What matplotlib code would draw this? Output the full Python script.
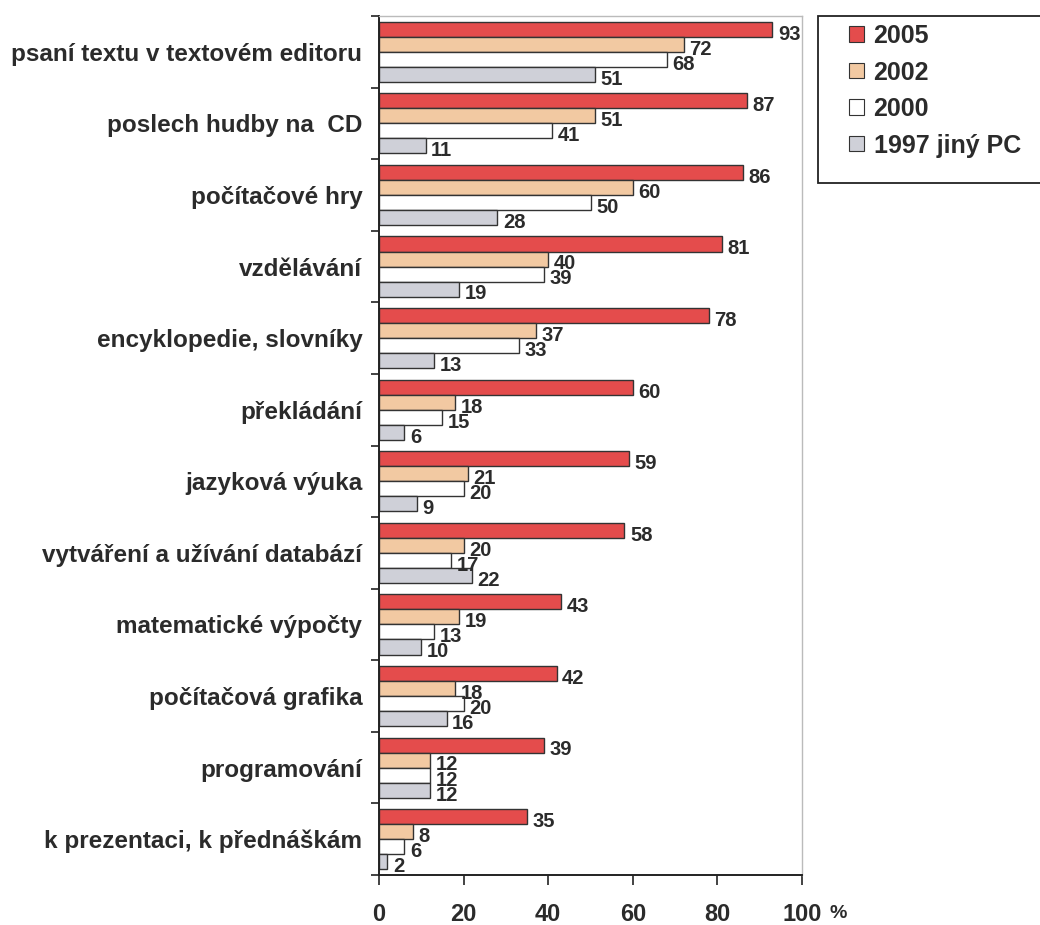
import numpy as np
import matplotlib
matplotlib.use("Agg")
import matplotlib.pyplot as plt
from matplotlib.patches import Patch, Rectangle

plt.rcParams['font.family'] = ['Liberation Sans', 'DejaVu Sans']
plt.rcParams['font.weight'] = 'bold'

categories = [
    "psaní textu v textovém editoru",
    "poslech hudby na  CD",
    "počítačové hry",
    "vzdělávání",
    "encyklopedie, slovníky",
    "překládání",
    "jazyková výuka",
    "vytváření a užívání databází",
    "matematické výpočty",
    "počítačová grafika",
    "programování",
    "k prezentaci, k přednáškám",
]
v2005 = [93, 87, 86, 81, 78, 60, 59, 58, 43, 42, 39, 35]
v2002 = [72, 51, 60, 40, 37, 18, 21, 20, 19, 18, 12, 8]
v2000 = [68, 41, 50, 39, 33, 15, 20, 17, 13, 20, 12, 6]
v1997 = [51, 11, 28, 19, 13, 6, 9, 22, 10, 16, 12, 2]
series_names = ["2005", "2002", "2000", "1997 jiný PC"]
xticks = [0, 20, 40, 60, 80, 100]

colors = ["#e44c4c", "#f2c9a2", "#ffffff", "#cfd0d8"]
txt = "#2b2b2b"
W, H = 1040, 925

fig = plt.figure(figsize=(10.4, 9.25), dpi=100)
ax = fig.add_axes([379 / W, 50 / H, 423 / W, 859 / H])

y = np.arange(len(categories))
h = 0.21
series = [v2005, v2002, v2000, v1997]
for k, (vals, col) in enumerate(zip(series, colors)):
    pos = y + (k - 1.5) * h
    ax.barh(pos, vals, height=h, color=col, edgecolor="#333333", linewidth=1.0)
    for p, v in zip(pos, vals):
        ax.annotate(str(v), (v, p), xytext=(4, -3.5), textcoords="offset points",
                    ha="left", va="center", fontsize=14.5, fontweight="bold", color=txt)

ax.set_xlim(0, 100)
ax.set_ylim(len(categories) - 0.5, -0.5)
ax.set_yticks(y)
ax.set_yticklabels(categories, fontsize=17.5, fontweight="bold", color=txt)
ax.tick_params(axis="y", which="major", length=0, pad=12)
ax.set_yticks(np.arange(len(categories) + 1) - 0.5, minor=True)
ax.tick_params(axis="y", which="minor", length=6, width=1.2, color="#222222", direction="out")

# "100" stays centred on its tick, the % sign is added beside it
ax.set_xticks(xticks)
ax.set_xticklabels([str(t) for t in xticks], fontsize=17, fontweight="bold", color=txt)
ax.tick_params(axis="x", length=7, width=1.2, color="#222222", direction="out", pad=13)
fig.text(830 / W, 1 - 913 / H, "%", fontsize=14, fontweight="bold", color=txt,
         ha="left", va="center")

for s in ["left", "bottom"]:
    ax.spines[s].set_color("#222222")
    ax.spines[s].set_linewidth(1.4)
for s in ["top", "right"]:
    ax.spines[s].set_color("#bbbbbb")
    ax.spines[s].set_linewidth(1.0)

# legend frame drawn separately so it can run off the right edge
fig.patches.append(Rectangle((818 / W, 1 - 183 / H), 240 / W, 167 / H,
                             transform=fig.transFigure, facecolor="white",
                             edgecolor="#222222", linewidth=1.3, zorder=1))
handles = [Patch(facecolor=c, edgecolor="#333333", linewidth=0.8) for c in colors]
leg = fig.legend(handles, series_names, loc="upper left",
                 bbox_to_anchor=(849 / W, 1 - 24 / H), frameon=False,
                 prop={"weight": "bold", "size": 18},
                 handlelength=0.58, handleheight=0.58, handletextpad=0.4,
                 labelspacing=0.5, borderpad=0, borderaxespad=0)
leg.set_zorder(2)
for t in leg.get_texts():
    t.set_color(txt)

fig.savefig("out.png", dpi=100, facecolor="white")
